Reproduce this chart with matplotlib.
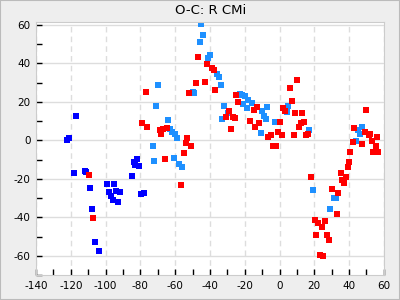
import matplotlib
matplotlib.use('Agg')
import matplotlib.pyplot as plt
from matplotlib.ticker import MultipleLocator
from matplotlib.patches import Rectangle

# --- data (phase/epoch vs O-C) ---
blue_x = [-122.0, -120.9, -116.9, -118.4, -111.7, -111.1, -108.9, -107.7, -106.0, -103.7,
          -99.1, -95.1, -98.0, -96.8, -94.0, -91.6, -95.7, -92.8, -84.8, -83.8,
          -82.8, -81.9, -80.6, -79.9, -77.9]
blue_y = [0.1, 1.1, 12.6, -17.0, -16.0, -16.7, -24.8, -35.7, -52.9, -57.6,
          -22.8, -22.8, -26.9, -28.7, -26.4, -26.9, -31.1, -32.1, -18.6, -11.3,
          -12.6, -9.9, -13.4, -28.0, -27.4]

dodger_x = [-72.7, -72.2, -70.0, -71.0, -64.1, -63.0, -61.8, -60.3, -59.0, -60.7,
            -57.8, -56.1, -45.2, -44.0, -45.8, -40.0, -41.2, -36.2, -34.9, -33.7,
            -49.8, -49.0, -22.8, -21.7, -20.0, -21.1, -18.2, -15.9, -18.8, -7.1,
            -10.2, -9.1, -7.9, -10.8, -32.0, -29.7, -33.1, 4.7, 4.1, -2.7,
            16.8, 47.2, 44.9, 46.0, 43.7, 19.0, 31.1, 32.2, 28.8]
dodger_y = [-3.0, -10.8, 28.7, 17.8, 10.5, 5.8, 4.3, 3.2, 1.1, -9.2,
            -12.4, -13.9, 60.4, 54.6, 51.0, 44.3, 42.9, 34.4, 32.8, 28.7,
            25.0, 24.5, 24.0, 23.5, 23.0, 18.8, 20.9, 19.3, 16.7, 17.2,
            15.2, 12.6, 11.0, 3.7, 17.8, 14.1, 11.0, 17.8, 14.6, 9.5,
            5.3, 6.9, 5.3, 3.2, -0.4, -25.9, -30.0, -30.0, -35.7]

red_x = [-109.8, -107.1, -76.6, -79.0, -76.2, -68.7, -67.0, -64.7, -68.1, -65.8,
         -53.2, -53.8, -50.9, -54.9, -56.7, -46.9, -41.7, -39.1, -37.7, -48.1,
         -42.9, -37.2, -52.1, -25.1, -24.0, -13.1, -14.8, -17.1, -11.9, -14.2,
         -6.6, -5.0, -29.1, -30.9, -26.8, -25.7, -28.0, 9.9, 5.9, 7.0,
         1.8, 3.0, 8.7, 12.7, 0.1, 12.2, 13.9, 11.0, -1.0, 1.3,
         8.2, 15.0, 16.2, -3.9, -2.2, 50.0, 43.1, 48.9, 51.2, 52.3,
         55.8, 42.0, 47.7, 52.9, 55.2, 40.8, 54.0, 56.9, 39.7, 39.1,
         35.1, 38.0, 35.7, 36.8, 17.9, 29.9, 33.9, 32.8, 20.2, 21.9,
         25.9, 24.2, 20.8, 27.1, 28.2, 23.1, 24.8]
red_y = [-18.1, -40.4, 25.0, 8.9, 6.9, 5.3, 5.8, 6.3, 3.2, -9.8,
         1.1, -1.5, -3.0, -6.6, -23.3, 43.2, 39.6, 37.5, 36.5, 29.7,
         30.2, 26.1, 24.5, 23.5, 19.8, 17.2, 15.7, 10.0, 8.9, 6.9,
         1.6, 2.7, 15.2, 12.1, 12.1, 11.5, 5.8, 31.3, 27.1, 20.4,
         16.7, 15.2, 14.1, 14.1, 9.5, 8.9, 9.5, 6.9, 4.3, 2.7,
         2.7, 2.7, 3.2, -3.0, -3.0, 15.7, 6.3, 4.3, 2.7, 3.2,
         1.7, -0.9, -2.0, -0.4, -3.0, -6.1, -6.1, -6.1, -11.3, -13.9,
         -17.0, -19.1, -20.7, -22.2, -19.1, -25.4, -27.4, -38.3, -41.5, -43.0,
         -42.0, -45.1, -49.2, -49.2, -51.8, -59.6, -60.2]

plt.rcParams['axes.unicode_minus'] = False

fig = plt.figure(figsize=(4, 3), dpi=100, facecolor='#eeeeee')
fig.patches.append(Rectangle((0, 0), 1, 1, transform=fig.transFigure, fill=False,
                             edgecolor='#bbbbbb', linewidth=1.5))
ax = fig.add_axes([0.09, 0.0833, 0.871, 0.8434])

ax.plot(blue_x, blue_y, 's', color='#0000ff', ms=4.0, mew=0)
ax.plot(dodger_x, dodger_y, 's', color='#1e90ff', ms=4.0, mew=0)
ax.plot(red_x, red_y, 's', color='#ff0000', ms=4.0, mew=0)

ax.set_xlim(-140, 60.3)
ax.set_ylim(-70, 61.5)
ax.xaxis.set_major_locator(MultipleLocator(20))
ax.xaxis.set_minor_locator(MultipleLocator(10))
ax.yaxis.set_major_locator(MultipleLocator(20))
ax.yaxis.set_minor_locator(MultipleLocator(10))

ax.grid(axis='y', which='major', color='#dddddd', linewidth=1, linestyle='-')
ax.grid(axis='x', which='major', color='#dddddd', linewidth=1, linestyle=(0, (4, 3)))
ax.set_axisbelow(True)

ax.tick_params(which='both', direction='in', color='black', labelsize=7.5, width=1)
ax.tick_params(which='major', length=4, pad=4)
ax.tick_params(which='minor', length=4)
for s in ax.spines.values():
    s.set_color('#cccccc')

ax.set_title('O-C: R CMi', fontsize=9.5, pad=6)

fig.savefig('out.png', dpi=100, facecolor=fig.get_facecolor())
